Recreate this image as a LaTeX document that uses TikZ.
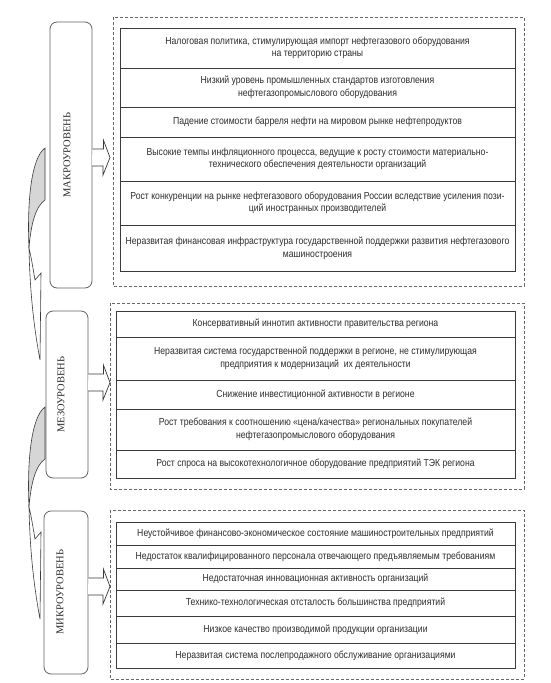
\documentclass[tikz,border=0pt]{standalone}
\usepackage{fontspec}
\newfontfamily\rowfont{Liberation Sans}[FakeStretch=0.85]
\newfontfamily\labfont{Liberation Serif}
\definecolor{linegray}{HTML}{3A3A3A}
\definecolor{textgray}{HTML}{2E2E2E}
\definecolor{dashgray}{HTML}{666666}
\definecolor{crescent}{HTML}{D6D6D6}
\tikzset{
  rowbox/.style={draw=linegray, line width=0.9pt, inner sep=0pt, align=center,
    text=textgray, font=\rowfont\fontsize{10.2}{12.6}\selectfont},
  groupbox/.style={draw=dashgray, dash pattern=on 3pt off 2pt, line width=0.6pt},
  levelbox/.style={draw=linegray!80, rounded corners=7pt, line width=0.8pt, inner sep=0pt},
  levellabel/.style={rotate=90, text=textgray, font=\labfont\fontsize{10.5}{12}\selectfont},
  blockarrow/.style={draw=linegray, fill=white, line width=0.7pt, line join=miter},
  curvearrow/.style={draw=linegray, line width=0.6pt},
}
\newcommand\rowb[6]{\node[rowbox, minimum width={(#3-#1)*1pt}, minimum height={(#4-#2)*1pt}] (#5) at ({(#1+#3)/2},{(#2+#4)/2}) {#6};}
\newcommand\blockarr[3]{\draw[blockarrow] (#1) ++(0,-8.5) -- ++({#2-0.0},0) -- ++(0,-9) -- (#3) -- ++({-7},17.5) -- ++(0,-9) -- ++({-#2},0);}
\newcommand\curvarr[1]{%
  \begin{scope}[shift={(0,#1)}]
    \draw[curvearrow, fill=crescent] (45,0) .. controls (31,10) and (27,55) .. (29,100)
       .. controls (31,75) and (36,58) .. (45,52) -- cycle;
    \draw[curvearrow, fill=white] (29,100) .. controls (30,150) and (35,185) .. (40,212)
       -- (41,125) -- (35,132) .. controls (33,120) and (31,108) .. (29,100) -- cycle;
  \end{scope}}
\begin{document}
\begin{tikzpicture}[x=1pt,y=-1pt]
\useasboundingbox (0,0) rectangle (550,683);
\fill[white] (0,0) rectangle (550,683);

% group boxes
\draw[groupbox] (113,17) rectangle (524,286);
\draw[groupbox] (110,303) rectangle (524,489);
\draw[groupbox] (110,510) rectangle (524,679);

% level boxes
\node[levelbox, minimum width=42pt, minimum height=266pt] (macro) at (71,155) {};
\node[levellabel] (macrolab) at (67,155) {МАКРОУРОВЕНЬ};
\node[levelbox, minimum width=42pt, minimum height=167pt] (meso) at (67,394.5) {};
\node[levellabel] (mesolab) at (61,394.5) {МЕЗОУРОВЕНЬ};
\node[levelbox, minimum width=44pt, minimum height=163pt] (micro) at (66,592.5) {};
\node[levellabel] (microlab) at (60,592) {МИКРОУРОВЕНЬ};

% macro rows
\rowb{120}{28}{515}{68}{a1}{Налоговая политика, стимулирующая импорт нефтегазового оборудования\\на территорию страны}
\rowb{120}{68}{515}{107}{a2}{Низкий уровень промышленных стандартов изготовления\\нефтегазопромыслового оборудования}
\rowb{120}{107}{515}{137}{a3}{Падение стоимости барреля нефти на мировом рынке нефтепродуктов}
\rowb{120}{137}{515}{181}{a4}{Высокие темпы инфляционного процесса, ведущие к росту стоимости материально-\\технического обеспечения деятельности организаций}
\rowb{120}{181}{515}{225}{a5}{Рост конкуренции на рынке нефтегазового оборудования России вследствие усиления пози-\\ций иностранных производителей}
\rowb{120}{225}{515}{271}{a6}{Неразвитая финансовая инфраструктура государственной поддержки развития нефтегазового\\машиностроения}

% meso rows
\rowb{116}{311}{515}{337}{b1}{Консервативный иннотип активности правительства региона}
\rowb{116}{337}{515}{380}{b2}{Неразвитая система государственной поддержки в регионе, не стимулирующая\\предприятия к модернизаций \ их деятельности}
\rowb{116}{380}{515}{409}{b3}{Снижение инвестиционной активности в регионе}
\rowb{116}{409}{515}{450}{b4}{Рост требования к соотношению «цена/качества» региональных покупателей\\нефтегазопромыслового оборудования}
\rowb{116}{450}{515}{478}{b5}{Рост спроса на высокотехнологичное оборудование предприятий ТЭК региона}

% micro rows
\rowb{116}{522}{515}{545}{c1}{Неустойчивое финансово-экономическое состояние машиностроительных предприятий}
\rowb{116}{545}{515}{568}{c2}{Недостаток квалифицированного персонала отвечающего предъявляемым требованиям}
\rowb{116}{568}{515}{590}{c3}{Недостаточная инновационная активность организаций}
\rowb{116}{590}{515}{616}{c4}{Технико-технологическая отсталость большинства предприятий}
\rowb{116}{616}{515}{643}{c5}{Низкое качество производимой продукции организации}
\rowb{116}{643}{515}{668}{c6}{Неразвитая система послепродажного обслуживание организациями}

% block arrows
\coordinate (tipA) at (110,157.5);
\coordinate (tipB) at (110,382.5);
\coordinate (tipC) at (110,586.5);
\blockarr{macro.east |- tipA}{11}{tipA}
\blockarr{meso.east |- tipB}{15}{tipB}
\blockarr{micro.east |- tipC}{15}{tipC}

% curved arrows
\curvarr{148}
\curvarr{407}
\end{tikzpicture}
\end{document}
